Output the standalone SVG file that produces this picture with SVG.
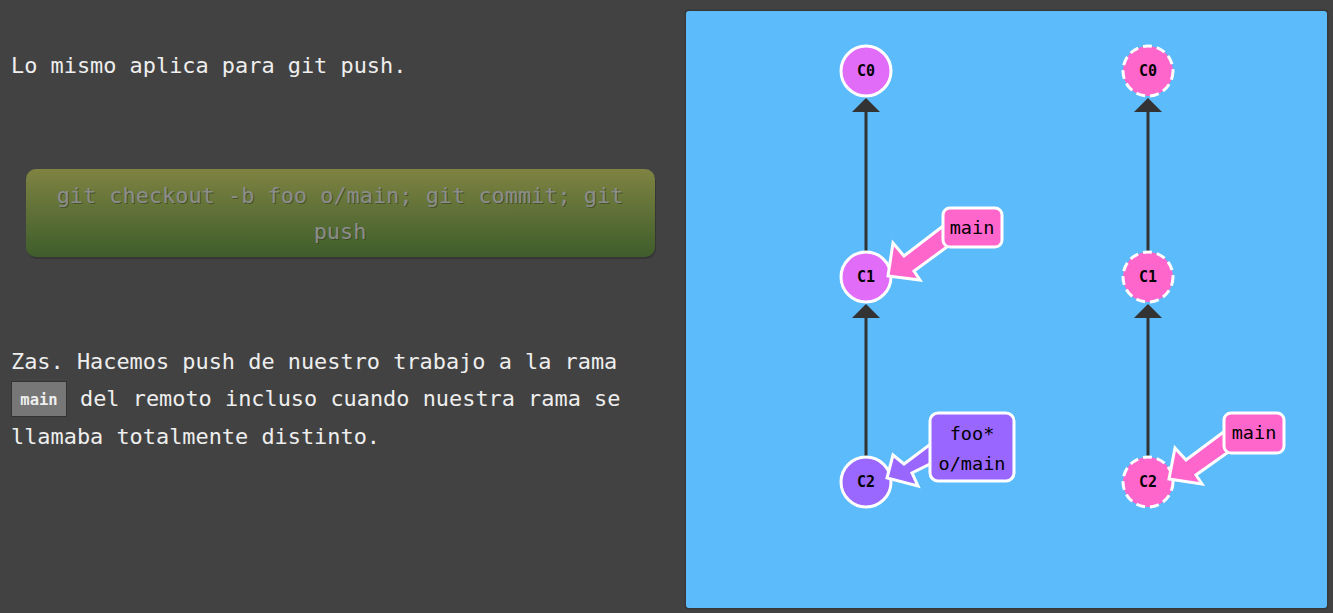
<svg xmlns="http://www.w3.org/2000/svg" width="1333" height="613" viewBox="0 0 1333 613">
  <style>
    .prose { font-family: "DejaVu Sans Mono", "Liberation Mono", monospace; font-size: 21.9px; fill: #eeeeee; }
    .cmd { font-family: "DejaVu Sans Mono", "Liberation Mono", monospace; font-size: 21.9px; fill: #8c8c8c; text-anchor: middle; }
    .cmdshadow { font-family: "DejaVu Sans Mono", "Liberation Mono", monospace; font-size: 21.9px; fill: #2f3f1c; opacity: 0.6; text-anchor: middle; }
    .commit-local { fill: #e06cf8; stroke: #ffffff; stroke-width: 3; }
    .commit-c2 { fill: #9a68ff; stroke: #ffffff; stroke-width: 3; }
    .commit-remote { fill: #ff66cc; stroke: #ffffff; stroke-width: 3; stroke-dasharray: 9 5; }
    .cid { font-family: "DejaVu Sans Mono", "Liberation Mono", monospace; font-size: 15px; font-weight: bold; fill: #000000; text-anchor: middle; }
    .edge { stroke: #333333; stroke-width: 3; fill: none; }
    .head { fill: #333333; }
    .tag-pink { fill: #ff66cc; stroke: #ffffff; stroke-width: 3; }
    .tag-purple { fill: #9966ff; stroke: #ffffff; stroke-width: 3; }
    .tag-text { font-family: "DejaVu Sans Mono", "Liberation Mono", monospace; font-size: 18.5px; fill: #000000; text-anchor: middle; }
  </style>
  <defs>
    <linearGradient id="btn" x1="0" y1="0" x2="0" y2="1">
      <stop offset="0" stop-color="#7f8342"/>
      <stop offset="1" stop-color="#3e5d2b"/>
    </linearGradient>
  </defs>

  <!-- page background -->
  <rect x="0" y="0" width="1333" height="613" fill="#424242"/>

  <!-- explanatory text -->
  <text class="prose" x="11" y="73">Lo mismo aplica para git push.</text>

  <g id="command">
    <rect x="27" y="171" width="629" height="88" rx="10" fill="#2e2e2e" opacity="0.6"/>
    <rect x="26" y="169" width="629" height="88" rx="10" fill="url(#btn)"/>
    <text class="cmdshadow" x="341" y="204">git checkout -b foo o/main; git commit; git</text>
    <text class="cmd" x="340" y="203">git checkout -b foo o/main; git commit; git</text>
    <text class="cmdshadow" x="341" y="240">push</text>
    <text class="cmd" x="340" y="239">push</text>
  </g>

  <text class="prose" x="11" y="369">Zas. Hacemos push de nuestro trabajo a la rama</text>
  <g id="inline-code">
    <rect x="11.5" y="381.5" width="55" height="35" fill="#777777" stroke="#333333" stroke-width="1"/>
    <text x="39" y="405" font-family="DejaVu Sans Mono, Liberation Mono, monospace" font-size="15.5" font-weight="bold" fill="#eeeeee" text-anchor="middle">main</text>
  </g>
  <text class="prose" x="80" y="406">del remoto incluso cuando nuestra rama se</text>
  <text class="prose" x="11" y="444">llamaba totalmente distinto.</text>

  <!-- visualization panel -->
  <rect x="684.5" y="9.5" width="644" height="600" rx="4" fill="#383838"/>
  <rect x="686" y="11" width="641" height="597" rx="3" fill="#5cbbfb"/>

  <!-- connectors between commits -->
  <g id="connectors">
    <line class="edge" x1="866" y1="252" x2="866" y2="110"/>
    <polygon class="head" points="866,98 852,112 880,112"/>
    <line class="edge" x1="866" y1="457" x2="866" y2="316"/>
    <polygon class="head" points="866,304 852,318 880,318"/>
    <line class="edge" x1="1148" y1="252" x2="1148" y2="110"/>
    <polygon class="head" points="1148,98 1134,112 1162,112"/>
    <line class="edge" x1="1148" y1="457" x2="1148" y2="316"/>
    <polygon class="head" points="1148,304 1134,318 1162,318"/>
  </g>

  <!-- local repository commits -->
  <g id="C0-local">
    <circle class="commit-local" cx="866" cy="71" r="25"/>
    <text class="cid" x="866" y="76">C0</text>
  </g>
  <g id="C1-local">
    <circle class="commit-local" cx="866" cy="277" r="25"/>
    <text class="cid" x="866" y="282">C1</text>
  </g>
  <g id="C2-local">
    <circle class="commit-c2" cx="866" cy="482" r="25"/>
    <text class="cid" x="866" y="487">C2</text>
  </g>

  <!-- remote repository commits -->
  <g id="C0-remote">
    <circle class="commit-remote" cx="1148" cy="71" r="25"/>
    <text class="cid" x="1148" y="76">C0</text>
  </g>
  <g id="C1-remote">
    <circle class="commit-remote" cx="1148" cy="277" r="25"/>
    <text class="cid" x="1148" y="282">C1</text>
  </g>
  <g id="C2-remote">
    <circle class="commit-remote" cx="1148" cy="482" r="25"/>
    <text class="cid" x="1148" y="487">C2</text>
  </g>

  <!-- branch labels with pointer arrows -->
  <g id="branch-main-local">
    <polygon class="tag-pink" points="888,276 893,243 904,256 951,220 962,236 914,271 920,280"/>
    <rect class="tag-pink" x="943" y="208" width="59" height="39" rx="7"/>
    <text class="tag-text" x="972" y="234">main</text>
  </g>

  <g id="branch-foo">
    <polygon class="tag-purple" points="887,478 893,455 904,464 940,437 948,455 912,473 918,486"/>
    <rect class="tag-purple" x="930" y="413" width="84" height="68" rx="8"/>
    <text class="tag-text" x="972" y="440">foo*</text>
    <text class="tag-text" x="972" y="470">o/main</text>
  </g>

  <g id="branch-main-remote">
    <polygon class="tag-pink" points="1169,479 1175,448 1186,460 1233,425 1244,441 1196,475 1202,484"/>
    <rect class="tag-pink" x="1224" y="413" width="60" height="40" rx="7"/>
    <text class="tag-text" x="1254" y="439">main</text>
  </g>
</svg>
